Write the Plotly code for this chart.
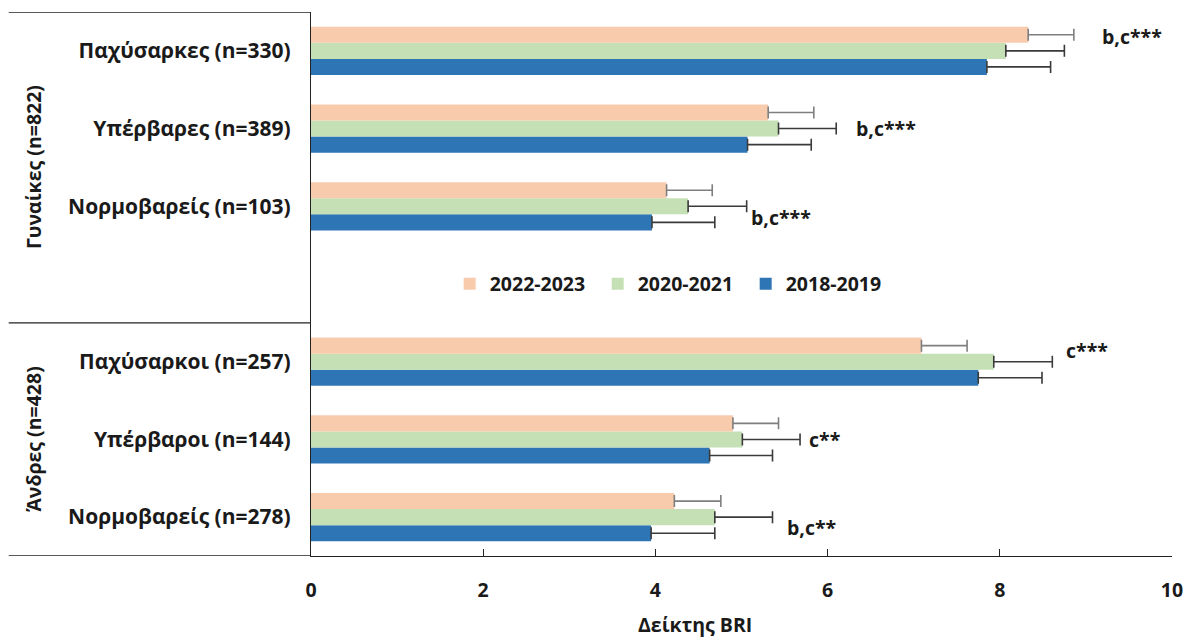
import plotly.graph_objects as go

# BRI by BMI category, sex and period
categories = ["Παχύσαρκες (n=330)", "Υπέρβαρες (n=389)", "Νορμοβαρείς (n=103)",
              "Παχύσαρκοι (n=257)", "Υπέρβαροι (n=144)", "Νορμοβαρείς (n=278)"]
groups = ["Γυναίκες (n=822)", "Άνδρες (n=428)"]
periods = ["2018-2019", "2020-2021", "2022-2023"]

bri_2018 = [7.85, 5.07, 3.96, 7.75, 4.63, 3.95]
bri_2020 = [8.07, 5.43, 4.38, 7.93, 5.01, 4.69]
bri_2022 = [8.33, 5.31, 4.13, 7.09, 4.90, 4.22]

sd_2018 = [0.74, 0.74, 0.73, 0.74, 0.73, 0.74]
sd_2020 = [0.68, 0.67, 0.68, 0.68, 0.67, 0.67]
sd_2022 = [0.53, 0.53, 0.53, 0.53, 0.53, 0.54]

signif = ["b,c***", "b,c***", "b,c***", "c***", "c**", "b,c**"]

# slots from top: 3 women rows, one empty row (legend), 3 men rows
slot_pos = [6, 5, 4, 2, 1, 0]

colors = {"2018-2019": "#2E75B6", "2020-2021": "#C5E0B4", "2022-2023": "#F8CBAD"}
err_colors = {"2018-2019": "#3a3a3a", "2020-2021": "#3a3a3a", "2022-2023": "#7f7f7f"}
values = {"2018-2019": bri_2018, "2020-2021": bri_2020, "2022-2023": bri_2022}
errors = {"2018-2019": sd_2018, "2020-2021": sd_2020, "2022-2023": sd_2022}

FONT = "Open Sans"
TXT = "#1a1a1a"
FS = 19.5

fig = go.Figure()
for p in periods:
    fig.add_trace(go.Bar(
        y=slot_pos, x=values[p], orientation="h", name=p,
        marker=dict(color=colors[p], line=dict(width=0)),
        error_x=dict(type="data", array=errors[p], symmetric=False,
                     arrayminus=[0] * len(categories),
                     color=err_colors[p], thickness=1.6, width=6),
    ))

# significance labels: (x-offset from bar group end in axis units, y offset within slot)
label_dx = [0.30, 0.21, 0.03, 0.13, 0.08, 0.14]
label_dy = [0.19, 0.0, -0.15, 0.14, 0.0, -0.13]
annotations = []
for i, s in enumerate(signif):
    tip = max(bri_2018[i] + sd_2018[i], bri_2020[i] + sd_2020[i], bri_2022[i] + sd_2022[i])
    annotations.append(dict(x=tip + label_dx[i], y=slot_pos[i] + label_dy[i],
                            xref="x", yref="y", text=s, showarrow=False,
                            xanchor="left", yanchor="middle",
                            font=dict(family=FONT, size=FS, color=TXT, weight="bold")))

# group labels on the left
for g, yc in zip(groups, [0.5 * (6.5 + 2.5), 0.5 * (2.5 - 0.5)]):
    annotations.append(dict(x=(33 - 311) / 863, y=yc, xref="paper", yref="y", text=g,
                            showarrow=False, textangle=-90, xanchor="center", yanchor="middle",
                            font=dict(family=FONT, size=FS, color=TXT, weight="bold")))

annotations.append(dict(x=(696 - 311) / 863, y=-0.125, xref="paper", yref="paper",
                        text="Δείκτης BRI", showarrow=False, xanchor="center", yanchor="middle",
                        font=dict(family=FONT, size=FS, color=TXT, weight="bold")))

# horizontal rules of the label panel
shapes = []
for yv in [6.5, 2.5, -0.5]:
    shapes.append(dict(type="line", xref="paper", yref="y",
                       x0=(8 - 311) / 863, x1=0, y0=yv, y1=yv,
                       line=dict(color="#222222", width=1.3)))

fig.update_layout(
    width=1195, height=640,
    margin=dict(l=311, r=21, t=12, b=84),
    paper_bgcolor="white", plot_bgcolor="white",
    barmode="group", bargap=0.38, bargroupgap=0,
    font=dict(family=FONT, size=FS, color=TXT, weight="bold"),
    showlegend=True,
    legend=dict(orientation="h", x=(450 - 311) / 863, y=0.5, xanchor="left", yanchor="middle",
                traceorder="reversed", bgcolor="rgba(0,0,0,0)",
                font=dict(family=FONT, size=FS, color=TXT, weight="bold"),
                itemwidth=30, entrywidth=103),
    xaxis=dict(range=[0, 10], dtick=2, tick0=0, showgrid=False, zeroline=False,
               showline=True, linecolor="#222222", linewidth=1.3,
               ticks="inside", ticklen=7, tickcolor="#222222",
               ticklabelstandoff=16,
               tickfont=dict(family=FONT, size=FS, color=TXT, weight="bold")),
    yaxis=dict(range=[-0.5, 6.5], tickvals=slot_pos, ticktext=categories,
               showgrid=False, zeroline=False, showline=True, linecolor="#222222",
               linewidth=1.3, ticks="", ticklabelstandoff=15,
               tickfont=dict(family=FONT, size=21, color=TXT, weight="bold")),
    annotations=annotations, shapes=shapes,
)

fig.write_html("out.html")
